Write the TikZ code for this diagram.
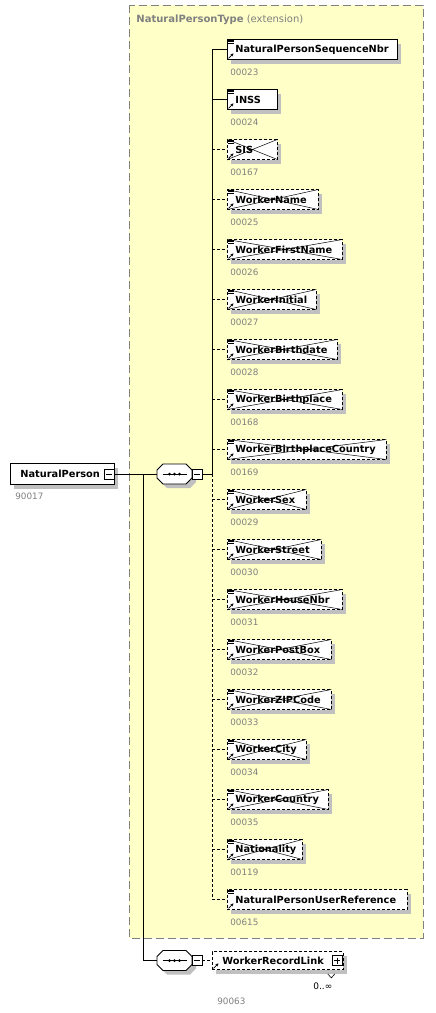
\documentclass[tikz,border=0pt]{standalone}
\usepackage{fontspec}
\setmainfont{DejaVu Sans}
\usetikzlibrary{shadows,arrows.meta}

\definecolor{typebg}{RGB}{255,255,200}
\definecolor{typeline}{RGB}{128,128,128}
\definecolor{idgray}{RGB}{128,128,128}
\definecolor{shadowgray}{RGB}{192,192,192}

% marks inside an element box: lines top left, arrow bottom left
\newcommand{\elemlines}[1]{%
  \begin{scope}[shift={(#1.north west)}]
    \foreach \k in {1,2.6,4.2} \draw[iconline] (1,\k) -- (6.5,\k);
  \end{scope}}
\newcommand{\elemarrow}[1]{%
  \draw[iconline, -{Stealth[length=3pt,width=3pt]}] ([xshift=1.5pt,yshift=1.5pt]#1.south west) -- ++(5,-5);}
\newcommand{\elemcross}{%
  \draw[solid, line width=0.5pt]
    (path picture bounding box.north west) -- (path picture bounding box.south east)
    (path picture bounding box.south west) -- (path picture bounding box.north east);}
% sequence compositor outline
\newcommand{\seqoutline}{(-11.5,-10) -- (11.5,-10) -- (17.5,-4) -- (17.5,4) -- (11.5,10) -- (-11.5,10) -- (-17.5,4) -- (-17.5,-4) -- cycle}
\newcommand{\seqshape}[1]{%
  \begin{scope}[shift={(#1.center)}]
    \fill[shadowgray] [shift={(4,4)}] \seqoutline;
    \filldraw[fill=white] \seqoutline;
    \draw (-12,0) -- (12,0);
    \foreach \d in {-5,0,5} \fill (\d,0) circle (1.5);
  \end{scope}}
\newcommand{\elemtext}[3]{\makebox[#1pt][l]{\hspace*{#2pt}#3}}

\tikzset{
  boxshadow/.style={general shadow={fill=shadowgray, shadow xshift=4pt, shadow yshift=-4pt}},
  iconline/.style={solid, line width=0.6pt},
  elem/.style={anchor=west, minimum height=20pt, inner sep=0pt,
    fill=white, boxshadow, font=\fontsize{9.8}{12}\selectfont\bfseries},
  elemm/.style={elem, draw},
  elemx/.style={elem, draw, dash pattern=on 3pt off 2pt, path picture={\elemcross}},
  elemo/.style={elem, draw, dash pattern=on 3pt off 2pt},
  connm/.style={draw},
  connx/.style={draw, dash pattern=on 3pt off 2pt},
  conno/.style={connx},
  idlabel/.style={anchor=west, inner sep=0pt, text=idgray, font=\fontsize{8.8}{10}\selectfont},
  seqnode/.style={minimum width=35pt, minimum height=20pt, inner sep=0pt},
  minusbox/.style={draw, fill=white, minimum size=10pt, inner sep=0pt,
    path picture={\draw[solid] ([xshift=2pt]path picture bounding box.west) -- ([xshift=-2pt]path picture bounding box.east);}},
  plusbox/.style={draw, fill=white, minimum size=10pt, inner sep=0pt,
    path picture={\draw[solid] ([xshift=2pt]path picture bounding box.west) -- ([xshift=-2pt]path picture bounding box.east)
      ([yshift=-2pt]path picture bounding box.north) -- ([yshift=2pt]path picture bounding box.south);}},
}

\begin{document}
\begin{tikzpicture}[x=1pt, y=-1pt, line width=0.8pt]
    \useasboundingbox (0,0) rectangle (436,1013);
    \fill[white] (0,0) rectangle (436,1013);

    % complex type area
    \fill[typebg] (129,5) rectangle (423,938);
    \draw[typeline, dash pattern=on 8pt off 4pt] (129,5) rectangle (423,938);
    \node[anchor=west, inner sep=0pt, text=idgray, font=\fontsize{10}{12}\selectfont] (np-type) at (136,20)
        {\textbf{NaturalPersonType} (extension)};

    % child elements of the sequence
    \foreach \ename/\eid/\bw/\kd [count=\i from 0] in {
        NaturalPersonSequenceNbr/00023/170/m, INSS/00024/50/m, SIS/00167/50/x,
        WorkerName/00025/91/x, WorkerFirstName/00026/115/x, WorkerInitial/00027/89/x,
        WorkerBirthdate/00028/110/x, WorkerBirthplace/00168/115/x,
        WorkerBirthplaceCountry/00169/159/x, WorkerSex/00029/79/x, WorkerStreet/00030/94/x,
        WorkerHouseNbr/00031/115/x, WorkerPostBox/00032/104/x, WorkerZIPCode/00033/104/x,
        WorkerCity/00034/79/x, WorkerCountry/00035/101/x, Nationality/00119/75/x,
        NaturalPersonUserReference/00615/180/o}{
      \pgfmathsetmacro{\yy}{49.5+50*\i}
      \node[elem\kd] (\ename) at (227,\yy) {\elemtext{\bw}{8}{\ename}};
      \elemlines{\ename}
      \elemarrow{\ename}
      \node[idlabel] (\ename-id) at (230,\yy+22.5) {\eid};
      \coordinate (sp\i) at (212,\yy);
      \draw[conn\kd] (sp\i) -- (\ename.west);
    }

    % sequence spine
    \coordinate (junc) at (212,474);
    \draw (sp0) -- (junc);
    \draw[connx] (junc) -- (sp17);

    % root element
    \node[elem, draw, minimum height=21pt] (np) at (10,474) {\elemtext{104}{10}{NaturalPerson}};
    \node[minusbox] (np-m) at (109,474) {};
    \node[idlabel] (np-id) at (15,496.5) {90017};

    % first sequence
    \node[seqnode] (seq1) at (174.5,474) {};
    \seqshape{seq1}
    \node[minusbox] (seq1-m) at (197,474) {};
    \draw (np-m.east) -- (seq1.west);
    \draw (seq1-m.east) -- (junc);

    % second sequence
    \coordinate (br) at (143,474);
    \node[seqnode] (seq2) at (174.5,960.5) {};
    \seqshape{seq2}
    \node[minusbox] (seq2-m) at (197,960.5) {};
    \draw (br) |- (seq2.west);

    \node[elem, draw, dash pattern=on 3pt off 2pt, minimum height=18pt] (wrl) at (212,960.5)
        {\elemtext{131}{10}{WorkerRecordLink}};
    \elemarrow{wrl}
    \node[plusbox] (wrl-p) at (337,960.5) {};
    \draw[connx] (seq2-m.east) -- (wrl.west);
    \draw[line width=0.6pt] ([xshift=-16pt, yshift=-4pt]wrl.south east) -- ++(3.5,4) -- ++(3.5,-4);
    \node[anchor=west, inner sep=0pt, font=\fontsize{9}{10}\selectfont] (wrl-occ) at (313,986) {0..∞};
    \node[idlabel] (wrl-id) at (217,1001.5) {90063};
\end{tikzpicture}
\end{document}
